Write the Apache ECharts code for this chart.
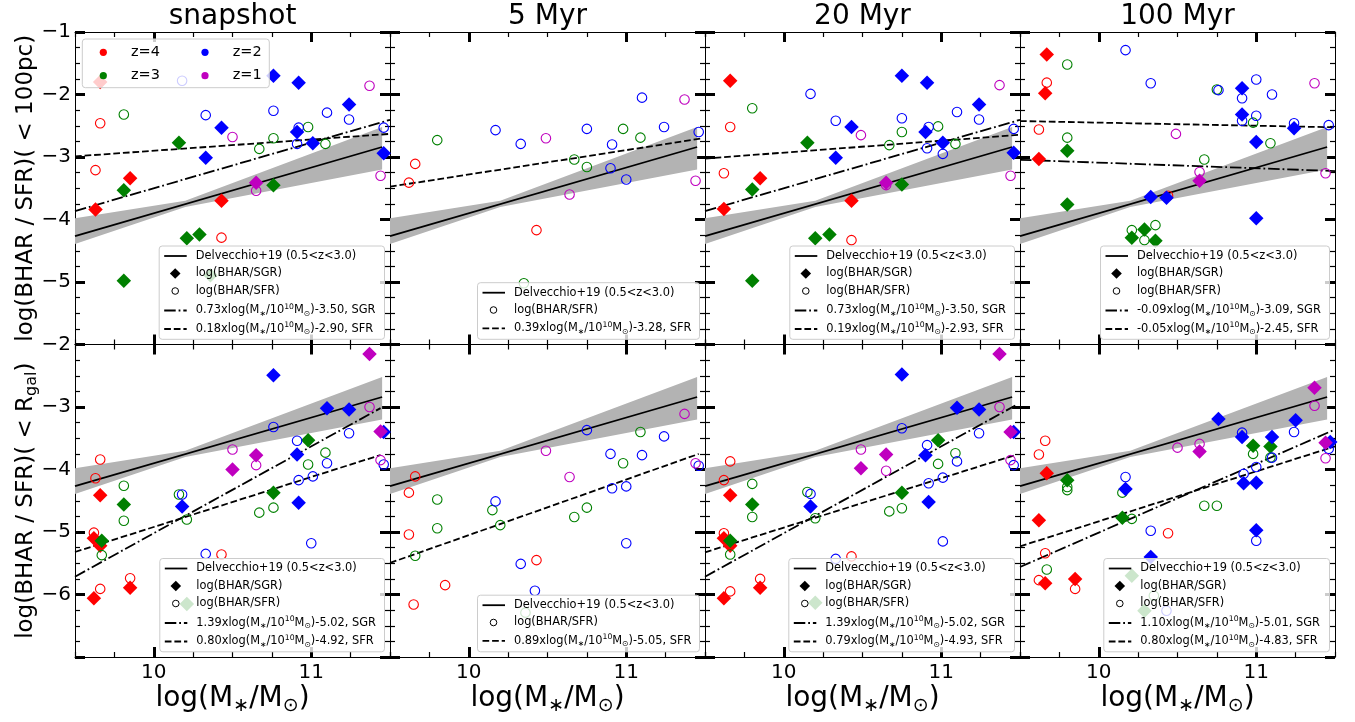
<!DOCTYPE html>
<html><head><meta charset="utf-8">
<script src="https://cdn.jsdelivr.net/npm/echarts@6/dist/echarts.min.js"></script>
<style>html,body{margin:0;padding:0;background:#fff}#chart{width:1355px;height:722px}</style>
</head><body><div id="chart"></div>
<script>
// ---------------- DATA: [log(M*/Msun), log ratio, redshift] ----------------
const snapshot_100pc_SGR = [
 [9.63,-3.84,4],[9.85,-3.34,4],[10.43,-3.70,4],[9.66,-1.80,4],
 [10.16,-2.77,3],[9.81,-3.53,3],[9.81,-4.98,3],[10.21,-4.30,3],[10.29,-4.24,3],[10.36,-4.89,3],[10.76,-3.45,3],
 [10.33,-3.01,2],[10.43,-2.53,2],[10.76,-1.70,2],[10.92,-1.81,2],[10.91,-2.60,2],[11.01,-2.78,2],[11.24,-2.16,2],[11.46,-2.94,2],
 [10.65,-3.41,1]];
const snapshot_100pc_SFR = [
 [9.66,-2.46,4],[9.63,-3.21,4],[10.43,-4.29,4],
 [9.81,-2.32,3],[10.67,-2.87,3],[10.76,-2.70,3],[10.98,-2.52,3],[11.09,-2.79,3],
 [10.18,-1.78,2],[10.33,-2.33,2],[10.76,-2.26,2],[10.92,-2.53,2],[10.91,-2.79,2],[11.10,-2.29,2],[11.24,-2.40,2],[11.46,-2.53,2],
 [10.50,-2.68,1],[10.65,-3.54,1],[11.37,-1.86,1],[11.44,-3.30,1]];
const myr5_100pc_SFR = [
 [9.62,-3.41,4],[9.66,-3.11,4],[10.43,-4.17,4],
 [9.80,-2.73,3],[10.67,-3.04,3],[10.75,-3.16,3],[10.98,-2.55,3],[11.09,-2.69,3],[10.35,-5.02,3],
 [10.17,-2.57,2],[10.33,-2.79,2],[10.75,-2.55,2],[10.91,-2.80,2],[10.90,-3.18,2],[11.00,-3.36,2],[11.10,-2.05,2],[11.24,-2.52,2],[11.46,-2.60,2],
 [10.49,-2.70,1],[10.64,-3.60,1],[11.37,-2.08,1],[11.44,-3.38,1]];
const myr20_100pc_SGR = [
 [9.66,-1.78,4],[9.85,-3.34,4],[9.62,-3.83,4],[10.43,-3.70,4],
 [10.15,-2.77,3],[9.80,-3.52,3],[9.80,-4.98,3],[10.20,-4.30,3],[10.29,-4.24,3],[10.75,-3.44,3],
 [10.43,-2.52,2],[10.33,-3.01,2],[10.75,-1.70,2],[10.91,-1.81,2],[10.90,-2.60,2],[11.01,-2.77,2],[11.24,-2.16,2],[11.46,-2.93,2],
 [10.65,-3.41,1]];
const myr20_100pc_SFR = [
 [9.66,-2.52,4],[9.62,-3.26,4],[10.43,-4.33,4],
 [9.80,-2.22,3],[10.67,-2.81,3],[10.75,-2.60,3],[10.98,-2.51,3],[11.09,-2.79,3],
 [10.17,-1.99,2],[10.33,-2.42,2],[10.75,-2.38,2],[10.92,-2.52,2],[10.91,-2.86,2],[11.01,-2.95,2],[11.10,-2.28,2],[11.24,-2.40,2],[11.46,-2.55,2],
 [10.49,-2.65,1],[10.65,-3.45,1],[11.37,-1.85,1],[11.44,-3.30,1]];
const myr100_100pc_SGR = [
 [9.67,-1.36,4],[9.66,-1.98,4],[9.62,-3.03,4],
 [9.80,-2.90,3],[9.80,-3.76,3],[10.21,-4.29,3],[10.29,-4.16,3],[10.36,-4.34,3],
 [10.91,-1.90,2],[10.91,-2.32,2],[11.00,-2.76,2],[11.24,-2.54,2],[10.33,-3.64,2],[10.43,-3.65,2],[11.00,-3.98,2],
 [10.64,-3.38,1]];
const myr100_100pc_SFR = [
 [9.67,-1.81,4],[9.62,-2.56,4],[10.44,-3.62,4],
 [9.80,-1.52,3],[9.80,-2.69,3],[10.67,-3.04,3],[10.75,-1.92,3],[10.98,-2.45,3],[11.09,-2.78,3],[10.21,-4.17,3],[10.29,-4.33,3],[10.36,-4.09,3],
 [10.17,-1.29,2],[10.33,-1.82,2],[10.76,-1.93,2],[10.91,-2.06,2],[10.91,-2.42,2],[11.00,-1.76,2],[11.00,-2.34,2],[11.10,-2.00,2],[11.24,-2.46,2],[11.46,-2.49,2],
 [10.49,-2.63,1],[10.64,-3.24,1],[11.37,-1.82,1],[11.44,-3.26,1]];

const snapshot_Rgal_SGR = [
 [9.66,-4.41,4],[9.62,-5.10,4],[9.66,-5.22,4],[9.62,-6.06,4],[9.85,-5.89,4],
 [9.81,-4.56,3],[9.67,-5.14,3],[10.76,-4.37,3],[10.98,-3.53,3],[10.21,-6.15,3],
 [10.18,-4.59,2],[10.76,-2.49,2],[10.91,-3.76,2],[10.92,-4.53,2],[11.10,-3.02,2],[11.24,-3.04,2],[11.46,-3.40,2],
 [10.50,-4.00,1],[10.65,-3.77,1],[11.37,-2.15,1],[11.44,-3.39,1]];
const snapshot_Rgal_SFR = [
 [9.63,-4.14,4],[9.66,-3.84,4],[9.62,-5.01,4],[9.66,-5.91,4],[9.85,-5.74,4],[10.43,-5.36,4],
 [9.81,-4.26,3],[9.81,-4.82,3],[9.67,-5.37,3],[10.16,-4.40,3],[10.21,-4.80,3],[10.67,-4.69,3],[10.76,-4.61,3],[10.98,-3.92,3],[11.09,-3.73,3],
 [10.18,-4.40,2],[10.33,-5.35,2],[10.76,-3.32,2],[10.91,-3.54,2],[10.92,-4.17,2],[11.01,-4.11,2],[11.00,-5.18,2],[11.10,-3.90,2],[11.24,-3.42,2],[11.46,-3.92,2],
 [10.50,-3.68,1],[10.65,-3.93,1],[11.37,-3.00,1],[11.44,-3.85,1]];
const myr5_Rgal_SFR = [
 [9.66,-4.11,4],[9.62,-4.37,4],[9.62,-5.04,4],[9.85,-5.85,4],[9.65,-6.16,4],[10.43,-5.45,4],
 [9.80,-4.48,3],[9.80,-4.94,3],[9.66,-5.38,3],[10.15,-4.65,3],[10.20,-4.89,3],[10.67,-4.76,3],[10.75,-4.61,3],[10.98,-3.90,3],[11.09,-3.40,3],[10.36,-6.29,3],
 [10.17,-4.51,2],[10.33,-5.51,2],[10.42,-5.94,2],[10.75,-3.37,2],[10.90,-3.75,2],[10.91,-4.30,2],[11.00,-4.27,2],[11.00,-5.18,2],[11.10,-3.77,2],[11.24,-3.47,2],[11.46,-3.94,2],
 [10.49,-3.70,1],[10.64,-4.12,1],[11.37,-3.11,1],[11.44,-3.90,1]];
const myr20_Rgal_SGR = [
 [9.66,-4.41,4],[9.62,-5.10,4],[9.66,-5.22,4],[9.62,-6.06,4],[9.85,-5.89,4],
 [9.80,-4.56,3],[9.66,-5.14,3],[10.75,-4.37,3],[10.98,-3.53,3],[10.20,-6.13,3],
 [10.17,-4.59,2],[10.75,-2.48,2],[10.90,-3.77,2],[10.92,-4.52,2],[11.10,-3.01,2],[11.24,-3.04,2],[11.46,-3.40,2],
 [10.49,-3.98,1],[10.65,-3.76,1],[11.37,-2.15,1],[11.44,-3.40,1]];
const myr20_Rgal_SFR = [
 [9.66,-3.87,4],[9.62,-4.17,4],[9.62,-5.02,4],[9.66,-5.95,4],[9.85,-5.75,4],[10.43,-5.39,4],
 [9.80,-4.23,3],[9.80,-4.76,3],[9.66,-5.36,3],[10.15,-4.36,3],[10.20,-4.78,3],[10.67,-4.67,3],[10.75,-4.62,3],[10.98,-3.91,3],[11.09,-3.74,3],
 [10.17,-4.39,2],[10.33,-5.43,2],[10.75,-3.34,2],[10.91,-3.61,2],[10.92,-4.22,2],[11.01,-4.13,2],[11.01,-5.15,2],[11.10,-3.87,2],[11.24,-3.42,2],[11.46,-3.93,2],
 [10.49,-3.68,1],[10.65,-4.02,1],[11.37,-3.00,1],[11.44,-3.85,1]];
const myr100_Rgal_SGR = [
 [9.67,-4.06,4],[9.62,-4.81,4],[9.66,-5.82,4],[9.85,-5.75,4],
 [9.80,-4.17,3],[10.15,-4.77,3],[10.98,-3.62,3],[11.09,-3.63,3],[10.21,-5.70,3],[10.29,-6.26,3],
 [10.17,-4.31,2],[10.33,-5.40,2],[10.76,-3.19,2],[10.91,-3.48,2],[10.92,-4.22,2],[11.00,-4.21,2],[11.00,-4.97,2],[11.10,-3.48,2],[11.25,-3.21,2],[11.47,-3.56,2],
 [10.64,-3.71,1],[11.37,-2.69,1],[11.44,-3.57,1]];
const myr100_Rgal_SFR = [
 [9.66,-3.54,4],[9.62,-3.76,4],[9.66,-5.34,4],[9.62,-5.77,4],[9.85,-5.91,4],[10.44,-5.02,4],
 [9.80,-4.28,3],[9.80,-4.33,3],[9.67,-5.60,3],[10.15,-4.37,3],[10.21,-4.79,3],[10.67,-4.58,3],[10.75,-4.58,3],[10.98,-3.75,3],[11.09,-3.81,3],[10.35,-6.02,3],
 [10.17,-4.12,2],[10.33,-4.98,2],[10.43,-6.26,2],[10.91,-3.41,2],[10.92,-4.07,2],[11.00,-3.96,2],[11.00,-5.14,2],[11.10,-3.81,2],[11.24,-3.40,2],[11.46,-3.67,2],
 [10.50,-3.65,1],[10.64,-3.59,1],[11.37,-2.98,1],[11.44,-3.82,1]];

// Delvecchio+19 relation and its uncertainty band
const delvecchio_line  = [[9.5,-4.265],[11.45,-2.84]];
const delvecchio_upper = [[9.5,-3.98],[10.2,-3.70],[11.45,-2.52]];
const delvecchio_lower = [[9.5,-4.39],[10.2,-3.80],[11.45,-3.20]];

// fitted lines (endpoints)
const fit_snapshot_100pc_SGR = [[9.5,-3.865],[11.5,-2.405]];
const fit_snapshot_100pc_SFR = [[9.5,-2.99],[11.5,-2.63]];
const fit_myr5_100pc_SFR     = [[9.5,-3.475],[11.48,-2.703]];
const fit_myr20_100pc_SGR    = [[9.5,-3.865],[11.5,-2.405]];
const fit_myr20_100pc_SFR    = [[9.5,-3.025],[11.5,-2.645]];
const fit_myr100_100pc_SGR   = [[9.5,-3.045],[11.5,-3.225]];
const fit_myr100_100pc_SFR   = [[9.5,-2.425],[11.5,-2.525]];
const fit_snapshot_Rgal_SGR  = [[9.5,-5.715],[11.44,-3.018]];
const fit_snapshot_Rgal_SFR  = [[9.5,-5.32],[11.44,-3.768]];
const fit_myr5_Rgal_SFR      = [[9.5,-5.495],[11.46,-3.751]];
const fit_myr20_Rgal_SGR     = [[9.5,-5.715],[11.47,-2.977]];
const fit_myr20_Rgal_SFR     = [[9.5,-5.325],[11.46,-3.777]];
const fit_myr100_Rgal_SGR    = [[9.5,-5.56],[11.5,-3.36]];
const fit_myr100_Rgal_SFR    = [[9.5,-5.23],[11.5,-3.63]];

// fit legend texts: [slope, intercept, kind]
const txt_snapshot_100pc_SGR = ['0.73','-3.50','SGR'];
const txt_snapshot_100pc_SFR = ['0.18','-2.90','SFR'];
const txt_myr5_100pc_SFR     = ['0.39','-3.28','SFR'];
const txt_myr20_100pc_SGR    = ['0.73','-3.50','SGR'];
const txt_myr20_100pc_SFR    = ['0.19','-2.93','SFR'];
const txt_myr100_100pc_SGR   = ['-0.09','-3.09','SGR'];
const txt_myr100_100pc_SFR   = ['-0.05','-2.45','SFR'];
const txt_snapshot_Rgal_SGR  = ['1.39','-5.02','SGR'];
const txt_snapshot_Rgal_SFR  = ['0.80','-4.92','SFR'];
const txt_myr5_Rgal_SFR      = ['0.89','-5.05','SFR'];
const txt_myr20_Rgal_SGR     = ['1.39','-5.02','SGR'];
const txt_myr20_Rgal_SFR     = ['0.79','-4.93','SFR'];
const txt_myr100_Rgal_SGR    = ['1.10','-5.01','SGR'];
const txt_myr100_Rgal_SFR    = ['0.80','-4.83','SFR'];

const panelTitles = ['snapshot','5 Myr','20 Myr','100 Myr'];
const redshifts = [4,3,2,1];
const redshiftLabels = ['z=4','z=3','z=2','z=1'];
const xMajorTicks = [10, 11];
const yRangeTop = [-6, -1];
const yRangeBottom = [-7, -2];
const delvecchioLabel = 'Delvecchio+19 (0.5<z<3.0)';
const sgrLabel = 'log(BHAR/SGR)';
const sfrLabel = 'log(BHAR/SFR)';

// ---------------- LAYOUT / STYLE ----------------
const COLORS = {4:'#ff0000',3:'#008000',2:'#0000ff',1:'#bf00bf'};
const FONT = 'DejaVu Sans';
const L0 = 75, PW = 315, TOPS = [32, 344.5], PH = 312.5;
const legendW = [[225.3,222,224.7,229],[224.7,222,225.7,225.7]];

const panels = [
 {sgr:snapshot_100pc_SGR, sfr:snapshot_100pc_SFR, fSGR:fit_snapshot_100pc_SGR, fSFR:fit_snapshot_100pc_SFR, tSGR:txt_snapshot_100pc_SGR, tSFR:txt_snapshot_100pc_SFR},
 {sgr:null, sfr:myr5_100pc_SFR, fSGR:null, fSFR:fit_myr5_100pc_SFR, tSGR:null, tSFR:txt_myr5_100pc_SFR},
 {sgr:myr20_100pc_SGR, sfr:myr20_100pc_SFR, fSGR:fit_myr20_100pc_SGR, fSFR:fit_myr20_100pc_SFR, tSGR:txt_myr20_100pc_SGR, tSFR:txt_myr20_100pc_SFR},
 {sgr:myr100_100pc_SGR, sfr:myr100_100pc_SFR, fSGR:fit_myr100_100pc_SGR, fSFR:fit_myr100_100pc_SFR, tSGR:txt_myr100_100pc_SGR, tSFR:txt_myr100_100pc_SFR},
 {sgr:snapshot_Rgal_SGR, sfr:snapshot_Rgal_SFR, fSGR:fit_snapshot_Rgal_SGR, fSFR:fit_snapshot_Rgal_SFR, tSGR:txt_snapshot_Rgal_SGR, tSFR:txt_snapshot_Rgal_SFR},
 {sgr:null, sfr:myr5_Rgal_SFR, fSGR:null, fSFR:fit_myr5_Rgal_SFR, tSGR:null, tSFR:txt_myr5_Rgal_SFR},
 {sgr:myr20_Rgal_SGR, sfr:myr20_Rgal_SFR, fSGR:fit_myr20_Rgal_SGR, fSFR:fit_myr20_Rgal_SFR, tSGR:txt_myr20_Rgal_SGR, tSFR:txt_myr20_Rgal_SFR},
 {sgr:myr100_Rgal_SGR, sfr:myr100_Rgal_SFR, fSGR:fit_myr100_Rgal_SGR, fSFR:fit_myr100_Rgal_SFR, tSGR:txt_myr100_Rgal_SGR, tSFR:txt_myr100_Rgal_SFR}
];

const minus = v => v < 0 ? '\u2212' + Math.abs(v) : String(v);

const grid = [], xAxis = [], yAxis = [], series = [], graphic = [];

for (let g = 0; g < 8; g++) {
  const r = Math.floor(g / 4), c = g % 4;
  grid.push({left: L0 + PW * c, top: TOPS[r], width: PW, height: PH, show: false});
}
for (let g = 0; g < 8; g++) {
  const r = Math.floor(g / 4), c = g % 4;
  grid.push({left: L0 + PW * c, top: TOPS[r], width: PW, height: PH, show: false});
}

for (let g = 0; g < 8; g++) {
  const r = Math.floor(g / 4), c = g % 4;
  const yr = r === 0 ? yRangeTop : yRangeBottom;
  const baseX = {type: 'value', min: 9.5, max: 11.5, splitLine: {show: false},
    axisLine: {show: true, onZero: false, lineStyle: {color: '#000', width: 1}}};
  xAxis.push(Object.assign({}, baseX, {gridIndex: g, position: 'bottom',
    axisTick: {show: true, inside: true, length: 10, customValues: xMajorTicks, lineStyle: {color: '#000', width: 3}},
    axisLabel: {show: r === 1, customValues: xMajorTicks, fontSize: 20, fontFamily: FONT, color: '#000', margin: 6}}));
  xAxis.push(Object.assign({}, baseX, {gridIndex: g, position: 'top',
    axisTick: {show: true, inside: true, length: 10, customValues: xMajorTicks, lineStyle: {color: '#000', width: 3}},
    axisLabel: {show: false}}));
  const minorX = {type: 'value', min: 9.5, max: 11.5, interval: 0.25, splitLine: {show: false},
    axisLine: {show: false, onZero: false}, axisLabel: {show: false},
    axisTick: {show: true, inside: true, length: 5, lineStyle: {color: '#000', width: 1.2}}};
  xAxis.push(Object.assign({}, minorX, {gridIndex: 8 + g, position: 'bottom'}));
  xAxis.push(Object.assign({}, minorX, {gridIndex: 8 + g, position: 'top'}));

  const baseY = {type: 'value', min: yr[0], max: yr[1], interval: 1, splitLine: {show: false},
    axisLine: {show: true, onZero: false, lineStyle: {color: '#000', width: 1}},
    axisTick: {show: true, inside: true, length: 10, lineStyle: {color: '#000', width: 3}},
    minorTick: {show: true, splitNumber: 4, length: 5, lineStyle: {color: '#000', width: 1.2}}};
  yAxis.push(Object.assign({}, baseY, {gridIndex: g, position: 'left',
    axisLabel: {show: c === 0, fontSize: 20, fontFamily: FONT, color: '#000', margin: 4,
      formatter: v => (v === yr[0]) ? '' : minus(v)}}));
  yAxis.push(Object.assign({}, baseY, {gridIndex: g, position: 'right', axisLabel: {show: false}}));
  yAxis.push({type: 'value', gridIndex: 8 + g, min: yr[0], max: yr[1], show: false});
}

for (let g = 0; g < 8; g++) {
  const p = panels[g];
  const xi = 4 * g, yi = 3 * g;
  series.push({type: 'custom', xAxisIndex: xi, yAxisIndex: yi, silent: true, z: 1, clip: true,
    data: [[10.5, -3.5]],
    renderItem: (params, api) => {
      const pts = delvecchio_upper.map(q => api.coord(q)).concat(delvecchio_lower.slice().reverse().map(q => api.coord(q)));
      return {type: 'polygon', shape: {points: pts}, style: {fill: '#b3b3b3'}};
    }});
  series.push({type: 'line', xAxisIndex: xi, yAxisIndex: yi, data: delvecchio_line, symbol: 'none', z: 3,
    lineStyle: {color: '#000', width: 1.8}, silent: true});
  if (p.fSGR) series.push({type: 'line', xAxisIndex: xi, yAxisIndex: yi, data: p.fSGR, symbol: 'none', z: 3,
    lineStyle: {color: '#000', width: 1.8, type: [11.5, 2.9, 1.8, 2.9]}, silent: true});
  series.push({type: 'line', xAxisIndex: xi, yAxisIndex: yi, data: p.fSFR, symbol: 'none', z: 3,
    lineStyle: {color: '#000', width: 1.8, type: [6.7, 2.9]}, silent: true});
  for (const z of redshifts) {
    if (p.sgr) series.push({type: 'scatter', xAxisIndex: xi, yAxisIndex: yi, z: 4, clip: true,
      data: p.sgr.filter(d => d[2] === z).map(d => [d[0], d[1]]),
      symbol: 'diamond', symbolSize: 14.5, itemStyle: {color: COLORS[z], opacity: 1}, silent: true});
    series.push({type: 'scatter', xAxisIndex: xi, yAxisIndex: yi, z: 4, clip: true,
      data: p.sfr.filter(d => d[2] === z).map(d => [d[0], d[1]]),
      symbol: 'circle', symbolSize: 9.5,
      itemStyle: {color: 'rgba(0,0,0,0)', borderColor: COLORS[z], borderWidth: 1.1, opacity: 1}, silent: true});
  }
}

// ---------------- TEXT / LEGENDS ----------------
const richSmall = {
  n: {fontFamily: FONT, fontSize: 11.4, lineHeight: 15, fill: '#000', color: '#000'},
  sb: {fontFamily: FONT, fontSize: 7.7, lineHeight: 9, verticalAlign: 'bottom', fill: '#000', color: '#000'},
  sp: {fontFamily: FONT, fontSize: 7.7, lineHeight: 9, verticalAlign: 'top', fill: '#000', color: '#000'}
};
const fitRich = t => `{n|${t[0]}xlog(M}{sb|\u2217}{n|/10}{sp|10}{n|M}{sb|\u2299}{n|)${t[1]}, ${t[2]}}`;

function addLegend(g) {
  const r = Math.floor(g / 4), c = g % 4, p = panels[g];
  const rows = [{k: 'solid', t: `{n|${delvecchioLabel}}`}];
  if (p.sgr) rows.push({k: 'diamond', t: `{n|${sgrLabel}}`});
  rows.push({k: 'circle', t: `{n|${sfrLabel}}`});
  if (p.tSGR) rows.push({k: 'dashdot', t: fitRich(p.tSGR)});
  rows.push({k: 'dashed', t: fitRich(p.tSFR)});
  const offs = rows.length === 5 ? [10, 27.5, 45, 64.5, 83] : [10, 27.3, 45.6];
  const h = rows.length === 5 ? 93.3 : 56.6;
  const w = legendW[r][c];
  const right = L0 + PW * (c + 1) - 5.5;
  const bottom = TOPS[r] + PH - 5.2;
  const bx = right - w, by = bottom - h;
  graphic.push({type: 'rect', z: 100, shape: {x: bx, y: by, width: w, height: h, r: 3},
    style: {fill: 'rgba(255,255,255,0.8)', stroke: '#cccccc', lineWidth: 1}});
  rows.forEach((row, i) => {
    const y = by + offs[i];
    const hx0 = bx + 5, hx1 = bx + 27.5, mx = bx + 16;
    if (row.k === 'solid' || row.k === 'dashed' || row.k === 'dashdot') {
      const dash = row.k === 'dashed' ? [6.7, 2.9] : row.k === 'dashdot' ? [11.5, 2.9, 1.8, 2.9] : null;
      graphic.push({type: 'line', z: 101, shape: {x1: hx0, y1: y, x2: hx1, y2: y},
        style: {stroke: '#000', lineWidth: 1.8, lineDash: dash}});
    } else if (row.k === 'diamond') {
      graphic.push({type: 'polygon', z: 101, shape: {points: [[mx, y - 5.3], [mx + 5.3, y], [mx, y + 5.3], [mx - 5.3, y]]},
        style: {fill: '#000'}});
    } else {
      graphic.push({type: 'circle', z: 101, shape: {cx: mx, cy: y, r: 3.3},
        style: {fill: 'none', stroke: '#000', lineWidth: 1}});
    }
    graphic.push({type: 'text', z: 101, x: bx + 36.5, y: y,
      style: {text: row.t, rich: richSmall, fill: '#000', font: `11.4px "${FONT}"`,
        textAlign: 'left', align: 'left', textVerticalAlign: 'middle', verticalAlign: 'middle'}});
  });
}
for (let g = 0; g < 8; g++) addLegend(g);

// redshift legend (top-left panel)
(function () {
  const bx = 82.3, by = 39, w = 187, h = 48.7;
  graphic.push({type: 'rect', z: 100, shape: {x: bx, y: by, width: w, height: h, r: 3},
    style: {fill: 'rgba(255,255,255,0.8)', stroke: '#cccccc', lineWidth: 1}});
  const pos = [[103.3, 52.3], [103.3, 75.7], [205, 52.3], [205, 75.7]];
  redshifts.forEach((z, i) => {
    graphic.push({type: 'circle', z: 101, shape: {cx: pos[i][0], cy: pos[i][1], r: 3.6}, style: {fill: COLORS[z]}});
    graphic.push({type: 'text', z: 101, x: pos[i][0] + 27.7, y: pos[i][1],
      style: {text: redshiftLabels[i], fill: '#000', font: `14.5px "${FONT}"`,
        textAlign: 'left', align: 'left', textVerticalAlign: 'middle', verticalAlign: 'middle'}});
  });
})();

panelTitles.forEach((t, c) => {
  graphic.push({type: 'text', z: 101, x: L0 + PW * c + PW / 2, y: 17,
    style: {text: t, fill: '#000', font: `28px "${FONT}"`, textAlign: 'center', align: 'center',
      textVerticalAlign: 'middle', verticalAlign: 'middle'}});
  graphic.push({type: 'text', z: 101, x: L0 + PW * c + PW / 2, y: 699,
    style: {text: '{n|log(M}{sb|\u2217}{n|/M}{sb|\u2299}{n|)}', fill: '#000',
      rich: {n: {fontFamily: FONT, fontSize: 28, lineHeight: 34, fill: '#000', color: '#000'},
             sb: {fontFamily: FONT, fontSize: 19, lineHeight: 24, verticalAlign: 'bottom', fill: '#000', color: '#000'}},
      textAlign: 'center', align: 'center', textVerticalAlign: 'middle', verticalAlign: 'middle'}});
});

graphic.push({type: 'text', z: 101, x: 26, y: TOPS[0] + PH / 2, rotation: Math.PI / 2,
  style: {text: 'log(BHAR / SFR)( < 100pc)', fill: '#000', font: `23px "${FONT}"`,
    textAlign: 'center', align: 'center', textVerticalAlign: 'middle', verticalAlign: 'middle'}});
graphic.push({type: 'text', z: 101, x: 26, y: TOPS[1] + PH / 2, rotation: Math.PI / 2,
  style: {text: '{n|log(BHAR / SFR)( < R}{sb|gal}{n|)}', fill: '#000',
    rich: {n: {fontFamily: FONT, fontSize: 23, lineHeight: 28, fill: '#000', color: '#000'},
           sb: {fontFamily: FONT, fontSize: 16, lineHeight: 18, verticalAlign: 'bottom', fill: '#000', color: '#000'}},
    textAlign: 'center', align: 'center', textVerticalAlign: 'middle', verticalAlign: 'middle'}});

const chart = echarts.init(document.getElementById('chart'), null, {renderer: 'canvas'});
chart.setOption({animation: false, backgroundColor: '#fff', grid, xAxis, yAxis, series, graphic});
</script></body></html>
